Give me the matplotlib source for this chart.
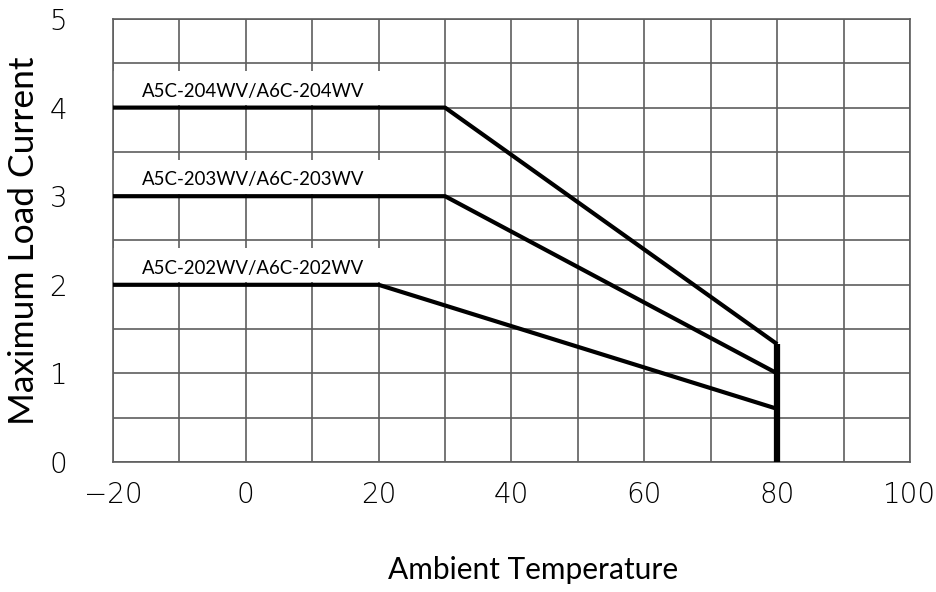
import matplotlib.pyplot as plt
from matplotlib.patches import Rectangle

# data
temp_break = [30, 30, 20]
labels = ["A5C-204WV/A6C-204WV", "A5C-203WV/A6C-203WV", "A5C-202WV/A6C-202WV"]
current_flat = [4, 3, 2]
current_at_80 = [1.33, 1.0, 0.6]
x_ticks = [-20, 0, 20, 40, 60, 80, 100]
y_ticks = [0, 1, 2, 3, 4, 5]

fig = plt.figure(figsize=(9.36, 5.92), dpi=100)
ax = fig.add_axes([0.1207, 0.2196, 0.8515, 0.7483])

ax.set_xlim(-20, 100)
ax.set_ylim(0, 5)

# grid
grid_c = "#5e5e5e"
for gx in range(-20, 101, 10):
    ax.axvline(gx, color=grid_c, lw=1.2, zorder=1)
for gy in [i * 0.5 for i in range(11)]:
    ax.axhline(gy, color=grid_c, lw=1.2, zorder=1)
for s in ax.spines.values():
    s.set_color(grid_c)
    s.set_linewidth(1.2)

# white boxes behind labels, then the curves
for y0, lab in zip(current_flat, labels):
    ax.add_patch(Rectangle((-20, y0 + 0.03), 49, 0.38, facecolor="white",
                           edgecolor="none", zorder=2))
    ax.text(-15.6, y0 + 0.09, lab, fontsize=13.4, family="Lato",
            ha="left", va="bottom", zorder=3)

for tb, y0, y80 in zip(temp_break, current_flat, current_at_80):
    ax.plot([-20, tb, 80], [y0, y0, y80], color="black", lw=3,
            solid_capstyle="butt", zorder=4)

ax.plot([80, 80], [0, max(current_at_80)], color="black", lw=4.5,
        solid_capstyle="butt", zorder=5)

ax.set_xticks(x_ticks)
ax.set_yticks(y_ticks)
ax.set_xticklabels([str(v).replace("-", "\u2212") for v in x_ticks])
ax.tick_params(length=0, labelsize=20)
ax.tick_params(axis="x", pad=14)
ax.tick_params(axis="y", pad=33)
for t in ax.get_xticklabels() + ax.get_yticklabels():
    t.set_family("DejaVu Sans")
    t.set_fontweight("light")

fig.text(0.0256, 0.593, "Maximum Load Current", rotation=90, fontsize=25.5,
         family="Lato", ha="center", va="center")
fig.text(0.569, 0.038, "Ambient Temperature", fontsize=21.5,
         family="Lato", ha="center", va="center")

fig.savefig("out.png", dpi=100)
